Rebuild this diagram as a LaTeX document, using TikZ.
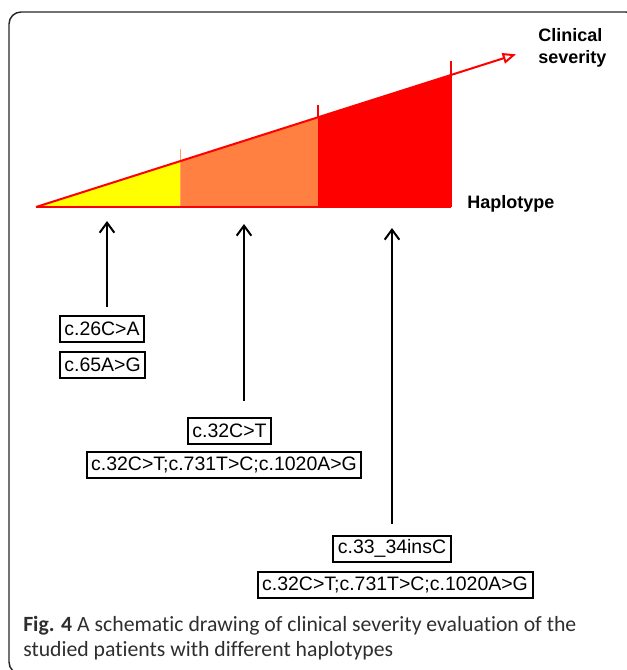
\documentclass[tikz,border=0pt]{standalone}
\usepackage{fontspec}
\setmainfont{Liberation Sans}
\newfontfamily\capfont[Ligatures=NoCommon]{Carlito}
\usetikzlibrary{arrows.meta,positioning,calc}
\definecolor{sevYellow}{HTML}{FFFF00}
\definecolor{sevOrange}{HTML}{FF8040}
\definecolor{sevOrangeLt}{HTML}{FFA060}
\definecolor{sevRed}{HTML}{FF0000}
\definecolor{frameg}{gray}{0.15}
\definecolor{capg}{gray}{0.18}
\tikzset{
  hbox/.style    = {draw=black, line width=1.5pt, fill=white,
                    inner xsep=3.5pt, inner ysep=2pt, minimum height=19.5pt,
                    font=\fontsize{14.6}{17}\selectfont},
  arr/.style     = {-{Straight Barb[length=7.5pt,width=11pt]}, line width=1.5pt},
  sevaxis/.style = {draw=sevRed, line width=1.5pt},
  axlab/.style   = {font=\fontsize{13.5}{16.5}\selectfont\bfseries,
                    inner sep=0pt, align=left},
  caplab/.style  = {font=\capfont\fontsize{16.3}{18.75}\selectfont,
                    text=capg, inner sep=0pt, align=left},
}
\begin{document}
\begin{tikzpicture}[x=0.75pt,y=-0.75pt]
  \useasboundingbox (0,0) rectangle (627,670);
  % frame
  \draw[frameg, line width=1.1pt, rounded corners=9pt] (9,12) rectangle (638,674);
  % severity wedge
  \coordinate (o)   at (36,207);
  \coordinate (s1)  at (180,161.2);
  \coordinate (s2)  at (318,117.3);
  \coordinate (s3)  at (451,75);
  \coordinate (tip) at (516,54.3);
  \fill[sevYellow] (o) -- (s1) -- (s1 |- o) -- cycle;
  \fill[sevOrange] (s1) -- (s2) -- (s2 |- o) -- (s1 |- o) -- cycle;
  \fill[sevRed]    (s2) -- (s3) -- (s3 |- o) -- (s2 |- o) -- cycle;
  \draw[sevOrangeLt, line width=0.75pt] (180,149) -- (s1 |- o);
  \draw[sevRed, line width=1pt] (318,105) -- (s2);
  \draw[sevRed, line width=1.5pt] (451,61) -- (s3 |- o);
  \draw[sevaxis] (o) -- (s3 |- o);
  \draw[sevaxis, -{Triangle[open,length=10pt,width=8pt]}] (o) -- (tip);
  \node[axlab, anchor=north west] (sev) at (538,28) {Clinical\\severity};
  \node[axlab, anchor=base west]  (hap) at (467,209) {Haplotype};
  % haplotype boxes
  \node[hbox] (b1) at (102,328.5) {c.26C>A};
  \node[hbox] (b2) at (102.5,365) {c.65A>G};
  \node[hbox] (b3) at (229.5,430.5) {c.32C>T};
  \node[hbox] (b4) at (224,465) {c.32C>T;c.731T>C;c.1020A>G};
  \node[hbox] (b5) at (392,548.5) {c.33\_34insC};
  \node[hbox] (b6) at (395,585) {c.32C>T;c.731T>C;c.1020A>G};
  % pointers to the axis
  \coordinate (a1) at (107,221);
  \coordinate (a2) at (244,224);
  \coordinate (a3) at (392,228);
  \draw[arr] ([yshift=6pt]b1.north -| a1) -- (a1);
  \draw[arr] ([yshift=12pt]b3.north -| a2) -- (a2);
  \draw[arr] ([yshift=8.25pt]b5.north -| a3) -- (a3);
  % caption
  \node[caplab, anchor=north west] (cap) at (23,616)
    {\textbf{Fig. 4} A schematic drawing of clinical severity evaluation of the\\
     studied patients with different haplotypes};
\end{tikzpicture}
\end{document}
